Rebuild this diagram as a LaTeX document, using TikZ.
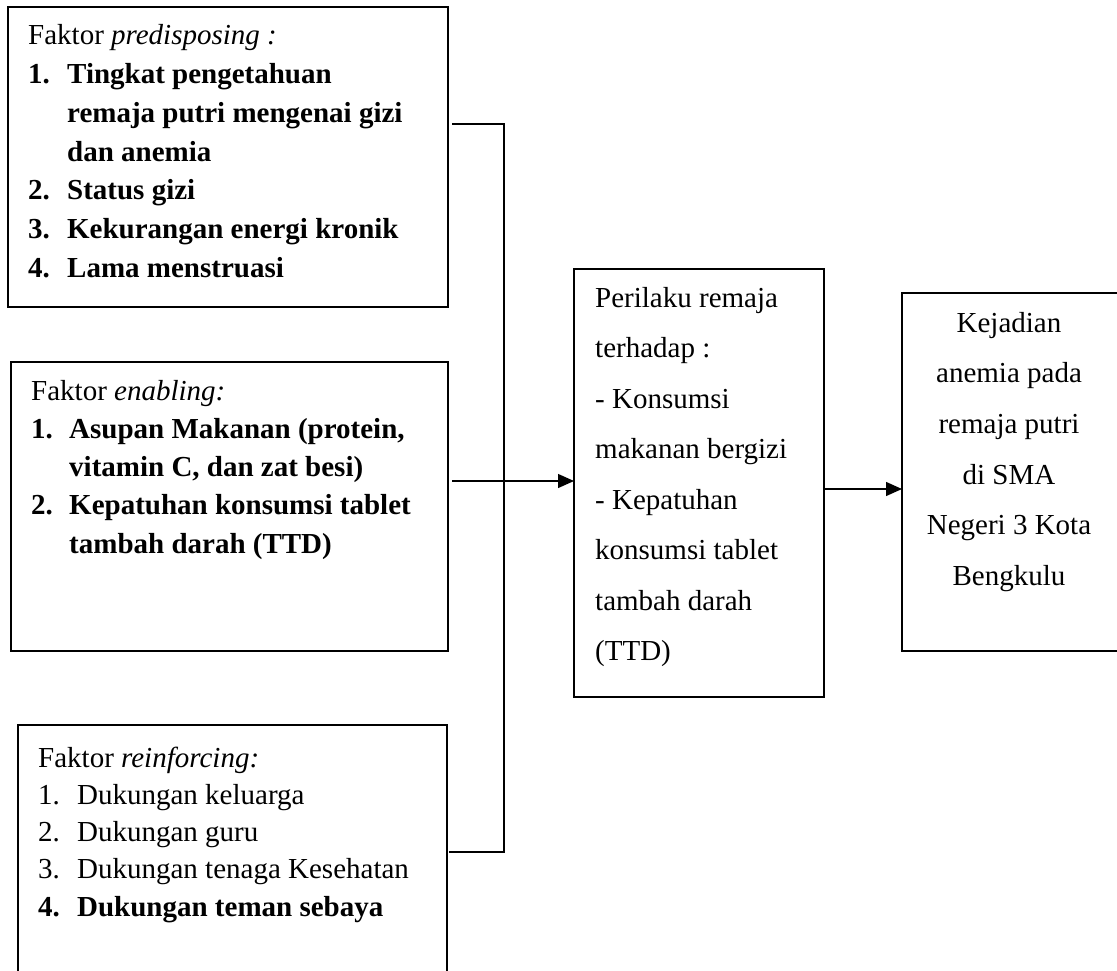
\documentclass[tikz,border=0pt]{standalone}
\usepackage{fontspec}
\setmainfont{Liberation Serif}
\usetikzlibrary{arrows.meta}
\begin{document}
\begin{tikzpicture}[x=1pt,y=-1pt,
  boxframe/.style={draw, line width=1.3pt, inner sep=0pt, outer sep=0pt, anchor=north west},
  txt/.style={anchor=base west, inner sep=0pt, font=\fontsize{29}{35}\selectfont},
  ctxt/.style={anchor=base, inner sep=0pt, font=\fontsize{29}{35}\selectfont},
  link/.style={line width=1.3pt},
  arr/.style={link, -{Triangle[length=16pt,width=14pt]}}]
\clip (0,0) rectangle (1117,971);
% boxes
\node[boxframe, minimum width=440pt, minimum height=300pt] (b1) at (8,7) {};
\node[boxframe, minimum width=437pt, minimum height=289pt] (b2) at (11,362) {};
\node[boxframe, minimum width=429pt, minimum height=300pt] (b3) at (18,725) {};
\node[boxframe, minimum width=250pt, minimum height=428pt] (b4) at (574,269) {};
\node[boxframe, minimum width=216pt, minimum height=358pt] (b5) at (902,293) {};
% box 1 text
\node[txt] (p0) at (28,45) {Faktor \textit{predisposing :}};
\node[txt] (p1) at (28,83.7) {\bfseries\makebox[39pt][l]{1.}Tingkat pengetahuan};
\node[txt] (p1b) at (67,122.4) {\bfseries remaja putri mengenai gizi};
\node[txt] (p1c) at (67,161.1) {\bfseries dan anemia};
\node[txt] (p2) at (28,199.8) {\bfseries\makebox[39pt][l]{2.}Status gizi};
\node[txt] (p3) at (28,238.5) {\bfseries\makebox[39pt][l]{3.}Kekurangan energi kronik};
\node[txt] (p4) at (28,277.2) {\bfseries\makebox[39pt][l]{4.}Lama menstruasi};
% box 2 text
\node[txt] (e0) at (31,400) {Faktor \textit{enabling:}};
\node[txt] (e1) at (31,438.3) {\bfseries\makebox[38pt][l]{1.}Asupan Makanan (protein,};
\node[txt] (e1b) at (69,476.6) {\bfseries vitamin C, dan zat besi)};
\node[txt] (e2) at (31,514.9) {\bfseries\makebox[38pt][l]{2.}Kepatuhan konsumsi tablet};
\node[txt] (e2b) at (69,553.2) {\bfseries tambah darah (TTD)};
% box 3 text
\node[txt] (r0) at (38,767) {Faktor \textit{reinforcing:}};
\node[txt] (r1) at (38,804) {\makebox[39pt][l]{1.}Dukungan keluarga};
\node[txt] (r2) at (38,841) {\makebox[39pt][l]{2.}Dukungan guru};
\node[txt] (r3) at (38,878) {\makebox[39pt][l]{3.}Dukungan tenaga Kesehatan};
\node[txt] (r4) at (38,916) {\bfseries\makebox[39pt][l]{4.}Dukungan teman sebaya};
% box 4 text
\node[txt] (q0) at (595,307) {Perilaku remaja};
\node[txt] (q1) at (595,357.5) {terhadap :};
\node[txt] (q2) at (595,408) {- Konsumsi};
\node[txt] (q3) at (595,458.5) {makanan bergizi};
\node[txt] (q4) at (595,509) {- Kepatuhan};
\node[txt] (q5) at (595,559.5) {konsumsi tablet};
\node[txt] (q6) at (595,610) {tambah darah};
\node[txt] (q7) at (595,660.5) {(TTD)};
% box 5 text
\node[ctxt] (k0) at (1009,332) {Kejadian};
\node[ctxt] (k1) at (1009,382.7) {anemia pada};
\node[ctxt] (k2) at (1009,433.4) {remaja putri};
\node[ctxt] (k3) at (1009,484.1) {di SMA};
\node[ctxt] (k4) at (1009,534.8) {Negeri 3 Kota};
\node[ctxt] (k5) at (1009,585.5) {Bengkulu};
% connectors
\coordinate (s1) at (452,124);
\coordinate (j1) at (504,124);
\coordinate (s2) at (452,481);
\coordinate (s3) at (449,852);
\coordinate (j3) at (504,852);
\coordinate (s4) at (824,489);
\draw[link] (s1) -- (j1) -- (j3) -- (s3);
\draw[arr] (s2) -- (s2 -| b4.west);
\draw[arr] (s4 -| b4.east) -- (s4 -| b5.west);
\end{tikzpicture}
\end{document}
